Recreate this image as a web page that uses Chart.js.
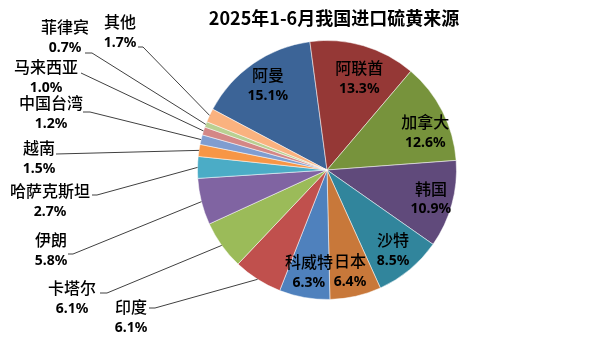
<!DOCTYPE html>
<html>
<head>
<meta charset="utf-8">
<script src="https://cdn.jsdelivr.net/npm/chart.js@4.4.1/dist/chart.umd.min.js"></script>
<style>
    html, body { margin: 0; padding: 0; background: #fff; }
</style>
</head>
<body>
<canvas id="sulfur_chart" width="606" height="339"></canvas>
<script>

const title_text = '2025年1-6月我国进口硫黄来源';

const countries = ['阿曼','阿联酋','加拿大','韩国','沙特','日本','科威特','印度','卡塔尔','伊朗','哈萨克斯坦','越南','中国台湾','马来西亚','菲律宾','其他'];
const shares = [15.1,13.3,12.6,10.9,8.5,6.4,6.3,6.1,6.1,5.8,2.7,1.5,1.2,1.0,0.7,1.7];
const pct_labels = ['15.1%','13.3%','12.6%','10.9%','8.5%','6.4%','6.3%','6.1%','6.1%','5.8%','2.7%','1.5%','1.2%','1.0%','0.7%','1.7%'];

const slice_colors = [
    '#3c6497','#953836','#77933c','#604a7b','#31859c','#c8783a',
    '#4f81bd','#c0504d','#9bbb59','#8064a2','#4bacc6','#f79646',
    '#7f9dd0','#d48786','#b9d092','#fab27f'
];

// labels that sit outside the pie: name centre, elbow of the leader, end of the short horizontal
const outside_labels = {
    7:  { x: 131, y: 307, ex: 155, ey: 308, hx: 149 },
    8:  { x: 72,  y: 288, ex: 107, ey: 293, hx: 100 },
    9:  { x: 51,  y: 240, ex: 73,  ey: 254, hx: 68 },
    10: { x: 50,  y: 191, ex: 97,  ey: 195, hx: 92 },
    11: { x: 39,  y: 148, ex: 56,  ey: 154, hx: 56 },
    12: { x: 51,  y: 103, ex: 90,  ey: 112, hx: 83 },
    13: { x: 46,  y: 67,  ex: 81,  ey: 73,  hx: 81 },
    14: { x: 65,  y: 27,  ex: 92,  ey: 53,  hx: 85 },
    15: { x: 120, y: 22,  ex: 143, ey: 47,  hx: 138 }
};

// small nudges for a few inside labels
const inside_nudge = { 1: [3, 7], 2: [6, 9], 3: [4, 1] };

const name_font = '500 16px "Noto Sans CJK SC", sans-serif';
const pct_font = 'bold 14px "Noto Sans", "DejaVu Sans", sans-serif';

const labelPlugin = {
    id: 'sliceLabels',
    afterDatasetsDraw(chart) {
        const c = chart.ctx;
        const arcs = chart.getDatasetMeta(0).data;
        c.save();
        c.textAlign = 'center';
        c.textBaseline = 'middle';
        c.fillStyle = '#000';

        // title
        c.font = 'bold 18px "Noto Sans CJK SC", sans-serif';
        c.fillText(title_text, 334, 18);

        arcs.forEach((arc, i) => {
            const mid = (arc.startAngle + arc.endAngle) / 2;
            const out = outside_labels[i];
            let nx, ny;
            if (!out) {
                const r = arc.outerRadius * 0.8;
                const nudge = inside_nudge[i] || [0, 0];
                nx = arc.x + Math.cos(mid) * r + nudge[0];
                ny = arc.y + Math.sin(mid) * r - 10 + nudge[1];
            } else {
                nx = out.x;
                ny = out.y;
                const sx = arc.x + Math.cos(mid) * arc.outerRadius;
                const sy = arc.y + Math.sin(mid) * arc.outerRadius;
                c.strokeStyle = '#404040';
                c.lineWidth = 1;
                c.beginPath();
                c.moveTo(sx, sy);
                c.lineTo(out.ex, out.ey);
                c.lineTo(out.hx, out.ey);
                c.stroke();
            }
            c.font = name_font;
            c.fillText(countries[i], nx, ny);
            c.font = pct_font;
            c.fillText(pct_labels[i], nx, ny + 21);
        });
        c.restore();
    }
};

new Chart(document.getElementById('sulfur_chart'), {
    type: 'pie',
    data: {
        labels: countries,
        datasets: [{
            data: shares,
            backgroundColor: slice_colors,
            borderColor: 'rgba(255,255,255,0.5)',
            borderWidth: 1
        }]
    },
    options: {
        responsive: false,
        animation: false,
        rotation: -62,
        layout: {
            padding: { left: 197, right: 149, top: 40, bottom: 39 }
        },
        plugins: {
            legend: { display: false },
            tooltip: { enabled: false }
        }
    },
    plugins: [labelPlugin]
});

</script>
</body>
</html>
